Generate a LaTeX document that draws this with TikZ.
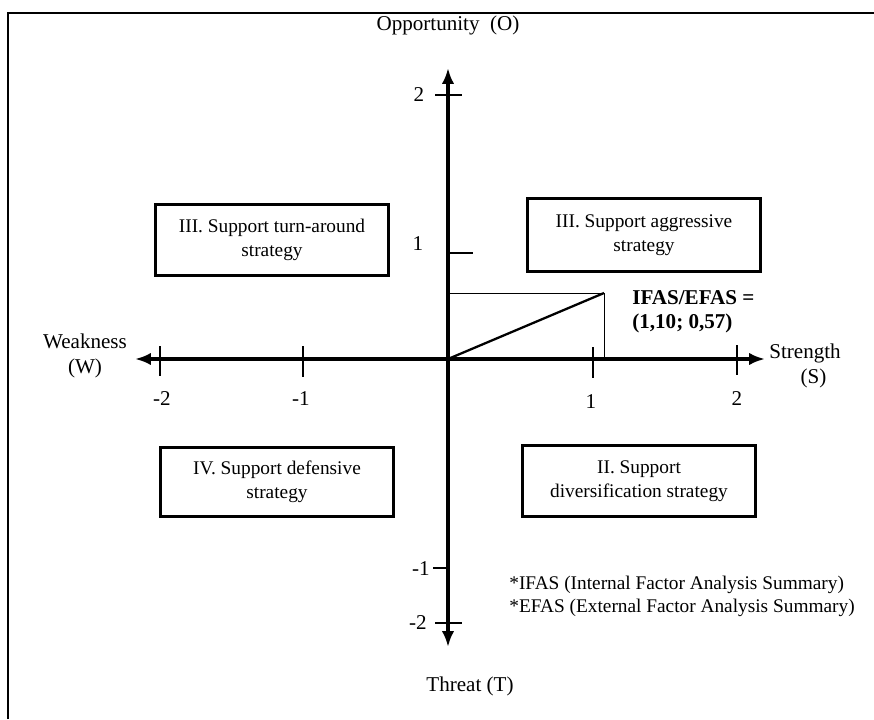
\documentclass[tikz,border=0pt]{standalone}
\usepackage{fontspec}
\setmainfont{Liberation Serif}
\usetikzlibrary{arrows.meta}

\begin{document}
\begin{tikzpicture}[x=0.02cm,y=-0.02cm,
  quad/.style={draw,line width=1.4pt,minimum width=4.66cm,minimum height=1.42cm,
    align=center,inner sep=2pt,font=\fontsize{11}{13.5}\selectfont},
  axis/.style={line width=1.8pt,{Latex[length=9pt,width=7pt]}-{Latex[length=9pt,width=7pt]}},
  tick/.style={line width=0.8pt},
  lbl/.style={font=\fontsize{12}{14}\selectfont,inner sep=0pt}]
\useasboundingbox (0,0) rectangle (874,719);
% frame
\draw [line width=1.6pt] (8,719) -- (8,13) -- (874,13);
% axes
\coordinate (o) at (448,359);
\coordinate (wend) at (135,359);
\coordinate (send) at (765,359);
\coordinate (oend) at (448,68);
\coordinate (tend) at (448,647);
\draw [axis] (wend) -- (send);
\draw [axis] (oend) -- (tend);
% ticks
\draw [tick] (160,346) -- (160,376);
\draw [tick] (303,346) -- (303,377);
\draw [tick] (593,347) -- (593,378);
\draw [tick] (737,345) -- (737,375);
\draw [tick] (435,95) -- (462,95);
\draw [tick] (448,253) -- (473,253);
\draw [tick] (433,568) -- (448,568);
\draw [tick] (435,623) -- (462,623);
\node [lbl] (xm2) at (162,399) {-2};
\node [lbl] (xm1) at (301,399) {-1};
\node [lbl] (xp1) at (591,402) {1};
\node [lbl] (xp2) at (737,399) {2};
\node [lbl] (yp2) at (419,95) {2};
\node [lbl] (yp1) at (418,244) {1};
\node [lbl] (ym1) at (421,569) {-1};
\node [lbl] (ym2) at (418,623) {-2};
% axis names
\node [lbl] (opp) at (448,25) {Opportunity\ \ (O)};
\node [lbl] (thr) at (470,686) {Threat (T)};
\node [lbl,align=center] (weak) at (85,356) {Weakness\\(W)};
\node [lbl,align=center] (str) at (805,366) {Strength\\\hspace*{0.8em}(S)};
% quadrants
\node [quad] (turn) at (272,240) {III. Support turn-around\\strategy};
\node [quad,minimum height=1.46cm] (aggr) at (644,235) {III. Support aggressive\\strategy};
\node [quad,minimum height=1.38cm] (def) at (277,482) {IV. Support defensive\\strategy};
\node [quad] (div) at (639,481) {II. Support\\diversification strategy};
% IFAS/EFAS point
\coordinate (p) at (604,293);
\coordinate (py) at (448,293);
\coordinate (px) at (604,359);
\draw [line width=0.5pt] (py) -- (p) -- (px);
\draw [line width=1.3pt] (o) -- (p);
\node [anchor=west,align=left,inner sep=0pt,font=\fontsize{12}{13.5}\selectfont\bfseries]
  (res) at (632,312) {IFAS/EFAS =\\(1,10; 0,57)};
% notes
\node [anchor=west,align=left,inner sep=0pt,font=\fontsize{11}{13}\selectfont]
  (note) at (509,596) {*IFAS (Internal Factor Analysis Summary)\\*EFAS (External Factor Analysis Summary)};
\end{tikzpicture}
\end{document}
